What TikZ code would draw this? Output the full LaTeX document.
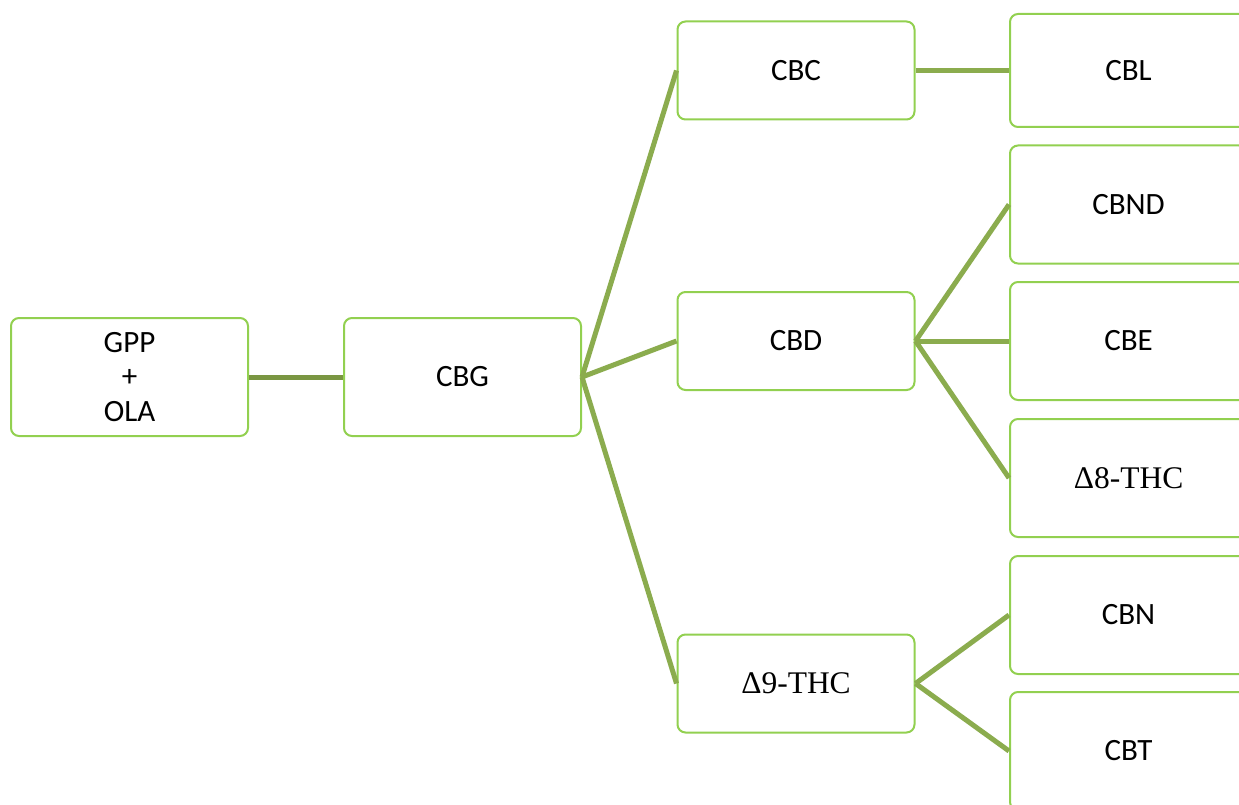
\documentclass[tikz,border=0pt]{standalone}
\usepackage{fontspec}
\setmainfont{Carlito}
\newfontfamily\timesfont{Liberation Serif}
\definecolor{boxgreen}{HTML}{92D050}
\definecolor{linkgreen}{HTML}{8BAC4E}
\definecolor{darkgreen}{HTML}{7A9642}
\tikzset{
  box/.style={draw=boxgreen, fill=white, line width=2pt, rounded corners=8pt,
    minimum width=237pt, minimum height=118pt, inner sep=0pt, align=center,
    font=\fontsize{31}{34.5}\selectfont},
  smallbox/.style={box, minimum height=98pt},
  link/.style={draw=linkgreen, line width=5pt},
  darklink/.style={draw=darkgreen, line width=5pt},
  serif/.style={font=\fontsize{31.5}{36}\selectfont\timesfont}
}
\begin{document}
\begin{tikzpicture}[x=1pt,y=-1pt]
\useasboundingbox (0,0) rectangle (1239,805);
\clip (0,0) rectangle (1239,805);
\fill[white] (0,0) rectangle (1239,805);
\node[box] (gpp) at (129.5,377) {GPP\\+\\OLA};
\node[box] (cbg) at (462.5,377) {CBG};
\node[smallbox] (cbc) at (796,70.5) {CBC};
\node[smallbox] (cbd) at (796,341) {CBD};
\node[smallbox, serif] (d9) at (796,683.5) {Δ9-THC};
\node[box, minimum height=113pt] (cbl) at (1128.5,70.5) {CBL};
\node[box] (cbnd) at (1128.5,204.5) {CBND};
\node[box] (cbe) at (1128.5,341) {CBE};
\node[box, serif] (d8) at (1128.5,478) {Δ8-THC};
\node[box] (cbn) at (1128.5,615) {CBN};
\node[box] (cbt) at (1128.5,751) {CBT};
\draw[darklink] (gpp.east) -- (cbg.west);
\draw[link] (cbg.east) -- (cbc.west);
\draw[link] (cbg.east) -- (cbd.west);
\draw[link] (cbg.east) -- (d9.west);
\draw[link] (cbc.east) -- (cbl.west);
\draw[link] (cbd.east) -- (cbnd.west);
\draw[link] (cbd.east) -- (cbe.west);
\draw[link] (cbd.east) -- (d8.west);
\draw[link] (d9.east) -- (cbn.west);
\draw[link] (d9.east) -- (cbt.west);
\end{tikzpicture}
\end{document}
